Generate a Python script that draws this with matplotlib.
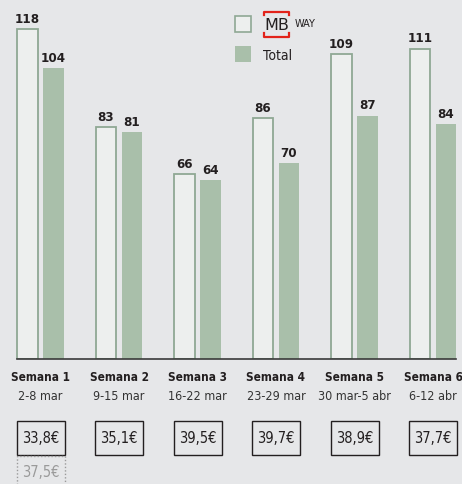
import matplotlib
matplotlib.use("Agg")
import matplotlib.pyplot as plt
from matplotlib.patches import Rectangle
from matplotlib.lines import Line2D
from matplotlib.transforms import blended_transform_factory

weeks = ["Semana 1", "Semana 2", "Semana 3", "Semana 4", "Semana 5", "Semana 6"]
dates = ["2-8 mar", "9-15 mar", "16-22 mar", "23-29 mar", "30 mar-5 abr", "6-12 abr"]
mbway = [118, 83, 66, 86, 109, 111]
total = [104, 81, 64, 70, 87, 84]
avg_mbway = ["33,8€", "35,1€", "39,5€", "39,7€", "38,9€", "37,7€"]
avg_prev = "37,5€"

BG = "#e6e7e9"
EDGE = "#8fa894"
FILL = "#a9bfaa"
DARK = "#231f20"
plt.rcParams["font.family"] = ["DejaVu Sans"]
plt.rcParams["font.stretch"] = "condensed"

W, H = 462, 485
fig = plt.figure(figsize=(W / 100, H / 100), dpi=100, facecolor=BG)

# axes: baseline at y=360px, 2.797 px per unit, groups 78.5px apart starting at 40.5px
ax = fig.add_axes([0, (H - 360) / H, 1, 350 / H])
ax.set_facecolor(BG)
ax.set_xlim(-40.5 / 78.5, (W - 40.5) / 78.5)
ax.set_ylim(0, 350 / 2.797)
for s in ax.spines.values():
    s.set_visible(False)
ax.set_xticks([])
ax.set_yticks([])

x = list(range(len(weeks)))
bw = 0.2675
off = 0.1656
ax.bar([i - off for i in x], mbway, width=bw, color="#edefee", edgecolor=EDGE, linewidth=1.3)
ax.bar([i + off for i in x], total, width=bw, color=FILL, edgecolor="none")

for i in x:
    ax.annotate(str(mbway[i]), (i - off, mbway[i]), xytext=(0, 3), textcoords="offset points",
                ha="center", va="bottom", fontsize=9.5, fontweight="bold", color=DARK)
    ax.annotate(str(total[i]), (i + off, total[i]), xytext=(0, 3), textcoords="offset points",
                ha="center", va="bottom", fontsize=9.5, fontweight="bold", color=DARK)

ax.plot([-off - bw / 2, 5 + off + bw / 2], [0, 0], color="#3a3a3a", lw=1.2, clip_on=False)

tr = blended_transform_factory(ax.transData, fig.transFigure)
fy = lambda py: (H - py) / H

for i in x:
    ax.text(i, fy(378), weeks[i], transform=tr, ha="center", va="center",
            fontsize=8.5, fontweight="bold", color=DARK)
    ax.text(i, fy(397), dates[i], transform=tr, ha="center", va="center",
            fontsize=9, color="#333333")
    bx = 48 / 78.5
    ax.add_patch(Rectangle((i - bx / 2, fy(456)), bx, 34 / H, transform=tr,
                           fill=False, edgecolor=DARK, lw=1.0, clip_on=False))
    ax.text(i, fy(439), avg_mbway[i], transform=tr, ha="center", va="center",
            fontsize=10.5, color=DARK)

bx = 48 / 78.5
ax.add_patch(Rectangle((-bx / 2, fy(490)), bx, 33 / H, transform=tr, fill=False,
                       edgecolor="#9a9a9a", lw=1.0, linestyle=(0, (1, 1.5)), clip_on=False))
ax.text(0, fy(473), avg_prev, transform=tr, ha="center", va="center",
        fontsize=10.5, color="#9a9a9a")

# legend
fig.add_artist(Rectangle((235 / W, fy(33)), 16 / W, 16 / H, transform=fig.transFigure,
                         facecolor="#edefee", edgecolor=EDGE, lw=1.2))
fig.add_artist(Rectangle((235 / W, fy(63)), 16 / W, 16 / H, transform=fig.transFigure,
                         facecolor=FILL, edgecolor="none"))
fig.text(263 / W, fy(56), "Total", ha="left", va="center", fontsize=10, color=DARK)
fig.text(276.5 / W, fy(25), "MB", ha="center", va="center", fontsize=11.5,
         fontstretch="normal", color=DARK)
fig.text(295 / W, fy(24), "WAY", ha="left", va="center", fontsize=7,
         fontstretch="normal", color=DARK)
red = "#e2231a"
fig.add_artist(Line2D([264 / W, 264 / W, 289 / W, 289 / W], [fy(16), fy(12.5), fy(12.5), fy(16)],
                      transform=fig.transFigure, color=red, lw=1.6))
fig.add_artist(Line2D([264 / W, 264 / W, 289 / W, 289 / W], [fy(34), fy(37.5), fy(37.5), fy(34)],
                      transform=fig.transFigure, color=red, lw=1.6))

fig.savefig("out.png", dpi=100, facecolor=BG)
